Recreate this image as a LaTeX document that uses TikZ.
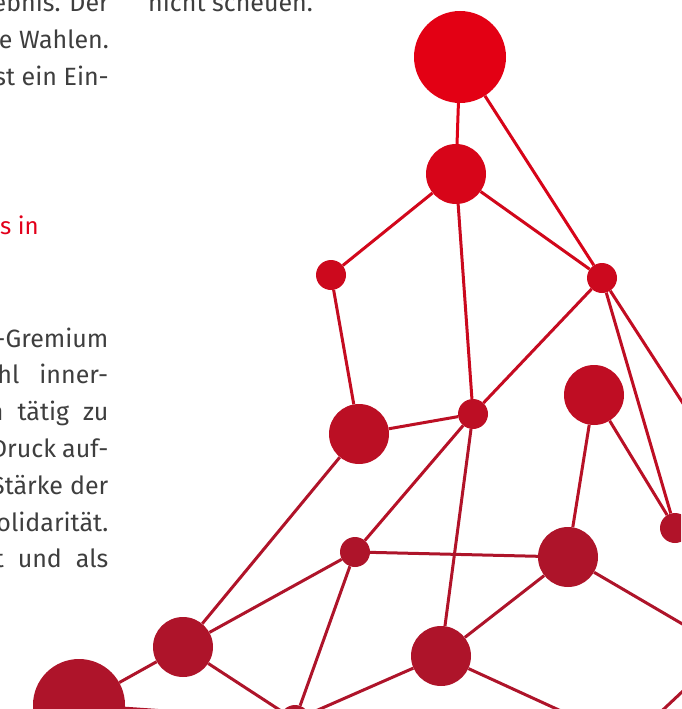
\documentclass[tikz,border=0pt]{standalone}
\usepackage{fontspec}
\setmainfont{Fira Sans}
\usetikzlibrary{backgrounds}
\definecolor{ntop}{RGB}{227,0,20}
\definecolor{nbot}{RGB}{174,20,42}
\definecolor{txt}{RGB}{62,62,62}
\definecolor{hred}{RGB}{226,0,26}
\begin{document}
\begin{tikzpicture}[x=1pt,y=-1pt,
  dot/.style={circle,inner sep=0pt,minimum size=#1,draw=none},
  edge/.style={line width=3pt,draw=#1},
  body/.style={anchor=base east,inner sep=0pt,text=txt,font=\fontsize{25}{30}\selectfont},
  bodyl/.style={anchor=base west,inner sep=0pt,text=txt,font=\fontsize{25}{30}\selectfont}]
\useasboundingbox (0,0) rectangle (681,709);
\clip (0,0) rectangle (681,709);
% text
\node[body] (t1) at (109,12) {ebnis. Der};
\node[bodyl] (t1b) at (148,12) {nicht scheuen.};
\node[body] (t2) at (109,48.5) {e Wahlen.};
\node[body] (t3) at (109,85) {st ein Ein-};
\node[anchor=base west,inner sep=0pt,text=hred,font=\fontsize{24}{28}\selectfont] (h) at (0,234) {s in};
\node[body] (p1) at (108.5,347) {-Gremium};
\node[body] (p2) at (108.5,383.8) {hl\hspace{20pt}inner-};
\node[body] (p3) at (108.5,420.6) {n\hspace{14pt}tätig\hspace{14pt}zu};
\node[body] (p4) at (108.5,457.4) {Druck\hspace{6pt}auf-};
\node[body] (p5) at (108.5,494.2) {Stärke\hspace{7pt}der};
\node[body] (p6) at (108.5,531) {olidarität.};
\node[body] (p7) at (108.5,567.8) {t\hspace{14pt}und\hspace{14pt}als};
% nodes
\node[dot=92pt,fill=ntop] (A) at (460,57) {};
\node[dot=60pt,fill=ntop!77!nbot] (B) at (456,174) {};
\node[dot=30pt,fill=ntop!57!nbot] (C) at (331,275) {};
\node[dot=30pt,fill=ntop!56!nbot] (D) at (602,278) {};
\node[dot=60pt,fill=ntop!25!nbot] (E) at (359,434) {};
\node[dot=30pt,fill=ntop!29!nbot] (F) at (473,414) {};
\node[dot=60pt,fill=ntop!33!nbot] (G) at (594,395) {};
\node[dot=30pt,fill=ntop!6!nbot] (H) at (675,528) {};
\node[dot=30pt,fill=nbot] (I) at (355,552) {};
\node[dot=60pt,fill=nbot] (J) at (568,557) {};
\node[dot=60pt,fill=nbot] (K) at (183,647) {};
\node[dot=60pt,fill=nbot] (L) at (441,656) {};
\node[dot=92pt,fill=nbot] (M) at (79,705) {};
\node[dot=30pt,fill=nbot] (N) at (295,720) {};
\coordinate (o1) at (728,473);
\coordinate (o2) at (720,646);
\coordinate (o3) at (620,738);
\coordinate (o4) at (650,722);
\coordinate (o5) at (700,675);
\begin{scope}[on background layer]
\draw[edge=ntop!88!nbot] (A) -- (B);
\draw[edge=ntop!78!nbot] (A) -- (D);
\draw[edge=ntop!67!nbot] (B) -- (C);
\draw[edge=ntop!66!nbot] (B) -- (D);
\draw[edge=ntop!53!nbot] (B) -- (F);
\draw[edge=ntop!41!nbot] (C) -- (E);
\draw[edge=ntop!43!nbot] (D) -- (F);
\draw[edge=ntop!31!nbot] (D) -- (H);
\draw[edge=ntop!38!nbot] (D) -- (o1);
\draw[edge=ntop!27!nbot] (E) -- (F);
\draw[edge=ntop!4!nbot] (E) -- (K);
\draw[edge=ntop!15!nbot] (F) -- (I);
\draw[edge=ntop!5!nbot] (F) -- (L);
\draw[edge=ntop!20!nbot] (G) -- (H);
\draw[edge=ntop!17!nbot] (G) -- (J);
\draw[edge=nbot] (I) -- (J);
\draw[edge=nbot] (I) -- (K);
\draw[edge=nbot] (I) -- (N);
\draw[edge=nbot] (K) -- (M);
\draw[edge=nbot] (K) -- (N);
\draw[edge=nbot] (L) -- (N);
\draw[edge=nbot] (L) -- (J);
\draw[edge=nbot] (L) -- (o3);
\draw[edge=nbot] (J) -- (o2);
\draw[edge=nbot] (o4) -- (o5);
\draw[edge=nbot] (M) -- (N);
\end{scope}
\end{tikzpicture}
\end{document}
